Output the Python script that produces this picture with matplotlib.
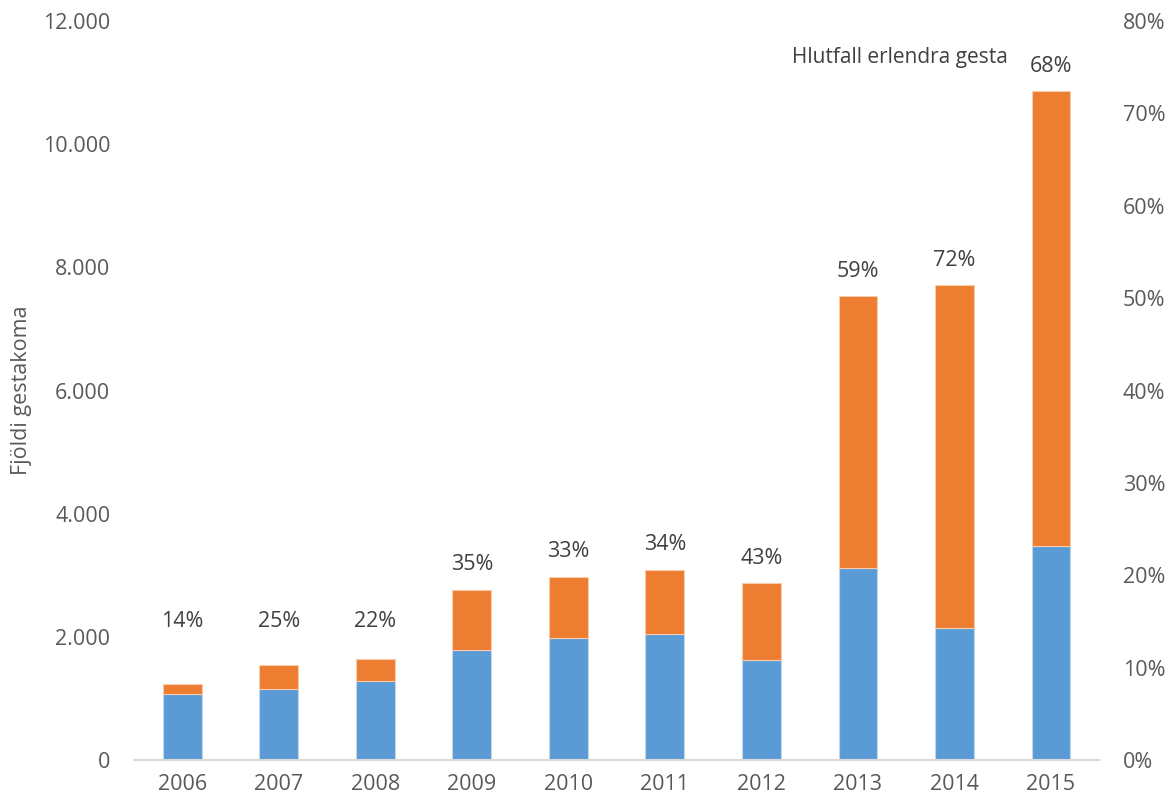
import matplotlib
matplotlib.use('Agg')
import matplotlib.pyplot as plt
import matplotlib.ticker as mticker
import numpy as np

plt.rcParams['font.family'] = ['Open Sans', 'DejaVu Sans']

# Data
years = ['2006', '2007', '2008', '2009', '2010',
         '2011', '2012', '2013', '2014', '2015']
domestic = [1067, 1158, 1278, 1781, 1986, 2051, 1629, 3118, 2138, 3480]
foreign = [175, 390, 362, 980, 991, 1039, 1245, 4412, 5571, 7379]
share_labels = ['14%', '25%', '22%', '35%', '33%',
                '34%', '43%', '59%', '72%', '68%']

x = np.arange(len(years))
width = 0.40
totals = np.array(domestic) + np.array(foreign)
fs = 15.5

fig = plt.figure(figsize=(11.73, 8.05), dpi=100)
ax = fig.add_axes([0.1142, 0.0559, 0.8228, 0.918])

ax.bar(x, domestic, width, color='#5B9BD5', edgecolor='#BDD7EE', linewidth=0.8)
ax.bar(x, foreign, width, bottom=domestic, color='#ED7D31',
       edgecolor='#F8CBAD', linewidth=0.8)

# Share labels above bars
for i in range(len(years)):
    ax.annotate(share_labels[i], (x[i], max(totals[i], 1850)),
                xytext=(0, 25), textcoords='offset pixels',
                ha='center', va='center', fontsize=fs, color='#404040')

ax.text(0.682, 0.951, 'Hlutfall erlendra gesta', transform=ax.transAxes,
        ha='left', va='center', fontsize=15, color='#404040')

ax.set_xlim(-0.5, len(years) - 0.5)
ax.set_ylim(0, 12000)
ax.set_yticks(np.arange(0, 12001, 2000))
ax.yaxis.set_major_formatter(mticker.FuncFormatter(
    lambda v, p: f"{int(v):,}".replace(',', '.')))
ax.set_xticks(x)
ax.set_xticklabels(years)
ax.set_ylabel('Fjöldi gestakoma', fontsize=fs, color='#595959')
ax.yaxis.set_label_coords(-0.116, 0.5)
ax.yaxis.label.set_va('center')

for s in ['top', 'right', 'left']:
    ax.spines[s].set_visible(False)
ax.spines['bottom'].set_color('#D9D9D9')
ax.spines['bottom'].set_linewidth(1.5)
ax.tick_params(axis='both', length=0, labelsize=fs, colors='#595959')
ax.tick_params(axis='y', pad=17)
ax.tick_params(axis='x', pad=10)

ax2 = ax.twinx()
ax2.set_ylim(0, 0.8)
ax2.set_yticks(np.arange(0, 0.81, 0.1))
ax2.yaxis.set_major_formatter(mticker.PercentFormatter(1.0, decimals=0))
for s in ['top', 'right', 'left', 'bottom']:
    ax2.spines[s].set_visible(False)
ax2.tick_params(axis='y', length=0, labelsize=fs, colors='#595959', pad=17)

fig.savefig('out.png', dpi=100)
